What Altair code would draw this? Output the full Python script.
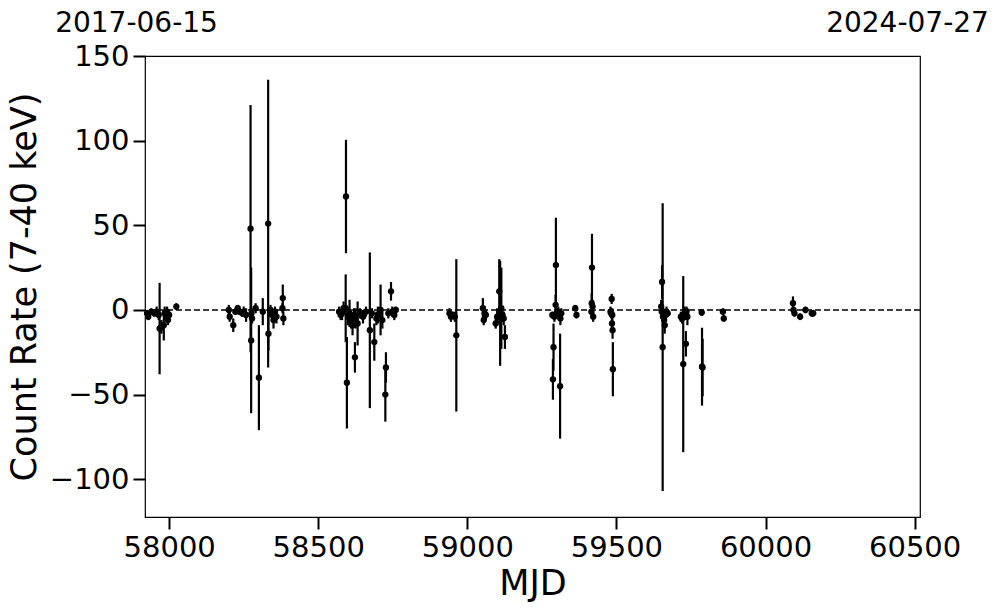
import altair as alt
import pandas as pd

# MJD, count rate, 1-sigma error
mjd = [
    57926, 57930, 57940, 57950, 57958, 57965, 57968, 57974, 57982, 57985, 57990, 57993, 57996, 58000, 58024,
    58200, 58203, 58215, 58222, 58230, 58236, 58245, 58250, 58258, 58273, 58275, 58276, 58278, 58301, 58290,
    58314, 58332, 58333, 58340, 58345, 58350, 58355, 58360, 58381, 58380, 58383,
    58593, 58592, 58596, 58605, 58673, 58709, 58744, 58623, 58632, 58688, 58727, 58725, 58748, 58755, 58760,
    58570, 58575, 58580, 58585, 58600, 58610, 58615, 58620, 58625, 58640, 58650, 58660, 58680, 58695, 58700, 58715, 58735,
    58940, 58945, 58950, 58958, 58963,
    59052, 59055, 59058, 59062, 59095, 59100, 59107, 59110, 59114, 59126, 59118, 59122,
    59297, 59296, 59287, 59289, 59311, 59285, 59292, 59300, 59305, 59312, 59315, 59362, 59366,
    59418, 59417, 59420, 59416, 59422,
    59484, 59482, 59486, 59480, 59485, 59487, 59488,
    59653, 59655, 59650, 59652, 59656, 59658, 59660, 59662, 59665, 59668, 59672,
    59724, 59733, 59716, 59720, 59728, 59730, 59735, 59738,
    59786, 59787, 59789,
    59857, 59860,
    60092, 60094, 60097, 60116, 60134, 60155, 60160,
]
rate = [
    -2, -4, -1, -2, -1, -3, -11, -10, -9, -2, -4, -1, -6, -3, 2,
    0, -4, -9, -1, 1, -1, -2, -1, -3, 48, -18, -2, -5, -40, 1,
    -1, 51, -14, 0, -3, -6, -1, -4, 7, 1, -5,
    67, 1, -43, -2, -12, 0, 11, -28, -8, -19, -34, -50, -1, -3, 0,
    -1, -3, -2, 1, -4, -6, -9, -3, -5, -2, -4, -1, -2, -5, -3, -6, -2,
    -2, -4, -3, -4, -15,
    1, -6, -2, -3, -8, -4, 11, -2, 1, -16, -3, -5,
    26.5, 3, -41, -22, -45, -3, -4, -2, -1, -5, -2, 1, -3,
    25, 4, 2, -1, -4,
    6.5, -2, -3, -1, -8, -12, -35,
    16.5, -22, 2, -1, -4, -2, -6, -9, -3, -1, -2,
    -32, -20, -4, -5, -2, -3, -1, -4,
    -1.5, -33.5, -34,
    -1, -5,
    4, 0, -2, -4, 0, -2, -2,
]
err = [
    2, 2, 2, 2, 3, 3, 27, 4, 9, 4, 3, 3, 3, 2, 2,
    3, 3, 4, 2, 2, 2, 2, 3, 4, 73, 43, 3, 3, 31, 3,
    8, 85, 10, 3, 4, 5, 3, 4, 8, 3, 4,
    33.5, 20, 27, 8, 46, 15, 5.5, 9, 13, 11, 9, 16, 3, 3, 2,
    3, 3, 4, 4, 5, 5, 6, 4, 6, 3, 4, 3, 3, 4, 5, 5, 3,
    3, 3, 2, 3, 45,
    6, 3, 4, 3, 3, 5, 19, 31, 24, 7, 4, 4,
    28, 6, 12, 14, 31, 2, 3, 3, 3, 4, 3, 2, 2,
    20, 6, 4, 3, 3,
    3, 3, 4, 3, 4, 5, 16,
    10, 85, 4, 3, 4, 3, 4, 5, 3, 3, 2,
    52, 7.5, 3, 3, 4, 3, 3, 5,
    2, 23, 17,
    2, 2,
    4, 2, 2, 2, 2, 2, 2,
]

x_ticks = [58000, 58500, 59000, 59500, 60000, 60500]
y_ticks = [-100, -50, 0, 50, 100, 150]
x_domain = [57919, 60518]
y_domain = [-122.3, 150]
date_labels = ["2017-06-15", "2024-07-27"]

df = pd.DataFrame({"mjd": mjd, "rate": rate, "err": err})
df["lo"] = df["rate"] - df["err"]
df["hi"] = df["rate"] + df["err"]

FONT = "DejaVu Sans"

xs = alt.Scale(domain=x_domain, nice=False, zero=False)
ys = alt.Scale(domain=y_domain, nice=False, zero=False)

x_axis = alt.Axis(values=x_ticks, format="d", title="MJD", grid=False)
y_axis = alt.Axis(values=y_ticks, format="d", title="Count Rate (7-40 keV)", grid=False)

base = alt.Chart(df)

zero = alt.Chart(pd.DataFrame({"y": [0]})).mark_rule(
    color="black", strokeWidth=1.5, strokeDash=[6, 3]
).encode(y=alt.Y("y:Q", scale=ys, axis=y_axis))

bars = base.mark_rule(color="black", strokeWidth=2.2).encode(
    x=alt.X("mjd:Q", scale=xs, axis=x_axis),
    y=alt.Y("lo:Q", scale=ys, axis=y_axis),
    y2="hi:Q",
)

pts = base.mark_circle(color="black", size=40, opacity=1).encode(
    x=alt.X("mjd:Q", scale=xs, axis=x_axis),
    y=alt.Y("rate:Q", scale=ys, axis=y_axis),
)

labels_df = pd.DataFrame({"mjd": [x_domain[0], x_domain[1]], "label": date_labels})
left_lab = alt.Chart(labels_df.iloc[[0]]).mark_text(
    font=FONT, fontSize=28, color="black", align="center", baseline="alphabetic", dx=-8.5
).encode(x=alt.X("mjd:Q", scale=xs, axis=x_axis), y=alt.value(-24), text="label:N")
right_lab = alt.Chart(labels_df.iloc[[1]]).mark_text(
    font=FONT, fontSize=28, color="black", align="center", baseline="alphabetic", dx=-12.5
).encode(x=alt.X("mjd:Q", scale=xs, axis=x_axis), y=alt.value(-24), text="label:N")

chart = alt.layer(zero, bars, pts, left_lab, right_lab).properties(
    width=775,
    height=461,
    padding={"left": 137, "top": 48, "right": 69, "bottom": 88},
    autosize=alt.AutoSizeParams(type="none"),
    background="white",
).configure_view(
    stroke="black", strokeWidth=1.2
).configure_axis(
    domain=False,
    ticks=True,
    tickColor="black",
    tickWidth=2,
    tickSize=12,
    labelFont=FONT,
    labelFontSize=29,
    labelColor="black",
    labelPadding=4,
    titleFont=FONT,
    titleFontSize=35,
    titleFontWeight="normal",
    titleColor="black",
).configure_axisX(titlePadding=4).configure_axisY(titlePadding=7)

chart.save("out.html", embed_options={"renderer": "svg", "actions": False})
